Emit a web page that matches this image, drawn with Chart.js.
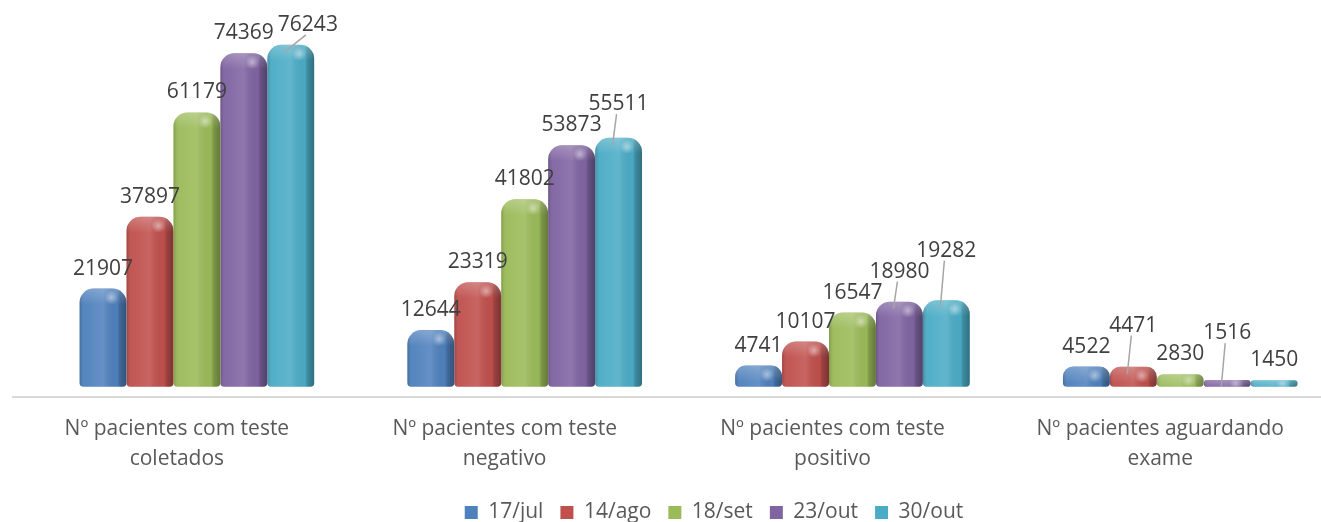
<!DOCTYPE html>
<html>
<head>
<meta charset="utf-8">
<script src="https://cdn.jsdelivr.net/npm/chart.js@4.4.0/dist/chart.umd.min.js"></script>
<style>
  html, body { margin: 0; padding: 0; background: #fff; overflow: hidden; }
  #wrap { width: 1321px; height: 522px; position: relative; }
</style>
</head>
<body>
<div id="wrap"><canvas id="testChart"></canvas></div>
<script>
// ---- data ----
var categories = [
  ["Nº pacientes com teste", "coletados"],
  ["Nº pacientes com teste", "negativo"],
  ["Nº pacientes com teste", "positivo"],
  ["Nº pacientes aguardando", "exame"]
];
var dates  = ["17/jul", "14/ago", "18/set", "23/out", "30/out"];
var jul17  = [21907, 12644, 4741, 4522];
var ago14  = [37897, 23319, 10107, 4471];
var set18  = [61179, 41802, 16547, 2830];
var out23  = [74369, 53873, 18980, 1516];
var out30  = [76243, 55511, 19282, 1450];
var seriesValues = [jul17, ago14, set18, out23, out30];
var seriesColors = ["#4F81BD", "#C0504D", "#9BBB59", "#8064A2", "#4BACC6"];

var textGrey = "#595959";
var labelGrey = "#404040";
var fontFam = "'Open Sans', 'Noto Sans', sans-serif";

// ---- cylinder-ish shading on top of each bar ----
var barShading = {
  id: "barShading",
  afterDatasetsDraw: function (chart) {
    var ctx = chart.ctx;
    chart.data.datasets.forEach(function (ds, di) {
      var meta = chart.getDatasetMeta(di);
      if (meta.hidden) return;
      meta.data.forEach(function (el) {
        var p = el.getProps(["x", "y", "base", "width"], true);
        var left = p.x - p.width / 2, right = p.x + p.width / 2;
        var h = p.base - p.y;
        var rTop = Math.min(14, p.width / 2, h / 2);
        var rBot = Math.min(4, h / 2);
        ctx.save();
        ctx.beginPath();
        ctx.roundRect(left, p.y, p.width, h, [rTop, rTop, rBot, rBot]);
        ctx.clip();
        var g = ctx.createLinearGradient(left, 0, right, 0);
        g.addColorStop(0, "rgba(0,0,0,0.18)");
        g.addColorStop(0.12, "rgba(255,255,255,0.04)");
        g.addColorStop(0.5, "rgba(255,255,255,0.12)");
        g.addColorStop(0.8, "rgba(0,0,0,0.02)");
        g.addColorStop(0.86, "rgba(0,0,0,0.2)");
        g.addColorStop(1, "rgba(0,0,0,0.36)");
        ctx.fillStyle = g;
        ctx.fillRect(left, p.y, p.width, h);
        var capH = Math.min(16, h);
        var gv = ctx.createLinearGradient(0, p.y, 0, p.y + capH);
        gv.addColorStop(0, "rgba(255,255,255,0.22)");
        gv.addColorStop(1, "rgba(255,255,255,0)");
        ctx.fillStyle = gv;
        ctx.fillRect(left, p.y, p.width, capH);
        var hx = p.x + p.width * 0.18, hy = p.y + Math.min(9, h / 2);
        var gr = ctx.createRadialGradient(hx, hy, 0, hx, hy, 7);
        gr.addColorStop(0, "rgba(255,255,255,0.45)");
        gr.addColorStop(1, "rgba(255,255,255,0)");
        ctx.fillStyle = gr;
        ctx.fillRect(hx - 8, hy - 8, 16, 16);
        ctx.restore();
      });
    });
  }
};

// ---- value labels above bars, nudged apart when they collide ----
var valueLabels = {
  id: "valueLabels",
  afterDatasetsDraw: function (chart) {
    var ctx = chart.ctx;
    var area = chart.chartArea;
    ctx.save();
    ctx.font = "21px " + fontFam;
    ctx.fillStyle = labelGrey;
    ctx.textAlign = "center";
    ctx.textBaseline = "alphabetic";
    var nCat = categories.length;
    for (var c = 0; c < nCat; c++) {
      var prev = null;
      chart.data.datasets.forEach(function (ds, di) {
        var meta = chart.getDatasetMeta(di);
        if (meta.hidden) return;
        var el = meta.data[c];
        var p = el.getProps(["x", "y"], true);
        var txt = String(ds.data[c].y);
        var w = ctx.measureText(txt).width;
        var lab = { x: p.x, base: p.y - 14, w: w, moved: false };
        if (prev) {
          var hOverlap = (prev.x + prev.w / 2 + 4) > (lab.x - lab.w / 2);
          var vOverlap = (lab.base > prev.base - 18) && (lab.base - 18 < prev.base);
          if (hOverlap && vOverlap) {
            var raised = prev.base - 21;
            if (raised - 16 > area.top - 2) {
              lab.base = raised;
            } else {
              lab.x = prev.x + (prev.w + lab.w) / 2 + 4;
            }
            lab.moved = true;
          }
        }
        if (lab.moved) {
          ctx.save();
          ctx.strokeStyle = "#a6a6a6";
          ctx.lineWidth = 1.5;
          ctx.beginPath();
          ctx.moveTo(lab.x - 2, lab.base + 4);
          ctx.lineTo(p.x - 6, p.y + 7);
          ctx.stroke();
          ctx.restore();
        }
        ctx.fillText(txt, lab.x, lab.base);
        prev = lab;
      });
    }
    ctx.restore();
  }
};

// the legend sits a little right of centre in the original
var legendNudge = {
  id: "legendNudge",
  afterLayout: function (chart) {
    if (!chart.legend) return;
    chart.legend.left += 47;
    chart.legend.right += 47;
  }
};

var datasets = seriesValues.map(function (vals, s) {
  return {
    label: dates[s],
    data: vals.map(function (v, i) { return { x: i, y: v }; }),
    backgroundColor: seriesColors[s],
    borderWidth: 0,
    borderRadius: { topLeft: 14, topRight: 14, bottomLeft: 4, bottomRight: 4 },
    borderSkipped: false,
    categoryPercentage: 0.716,
    barPercentage: 1.0
  };
});

new Chart(document.getElementById("testChart"), {
  type: "bar",
  data: { datasets: datasets },
  options: {
    responsive: true,
    maintainAspectRatio: false,
    animation: false,
    layout: { padding: { top: 10, left: 13, right: 0, bottom: -11 } },
    plugins: {
      legend: {
        position: "bottom",
        labels: {
          color: textGrey,
          font: { family: fontFam, size: 21 },
          boxWidth: 13,
          boxHeight: 13,
          padding: 17
        }
      },
      tooltip: { enabled: false }
    },
    scales: {
      x: {
        type: "linear",
        min: -0.561,
        max: 3.427,
        offset: false,
        grid: { display: false, drawTicks: false },
        border: { display: true, color: "#d9d9d9", width: 2 },
        afterBuildTicks: function (scale) {
          scale.ticks = categories.map(function (c, i) { return { value: i }; });
        },
        afterFit: function (scale) {
          scale.height -= 6;
        },
        ticks: {
          color: textGrey,
          font: { family: fontFam, size: 21, lineHeight: 1.43 },
          padding: 17,
          labelOffset: -20,
          maxRotation: 0,
          autoSkip: false,
          callback: function (val) { return categories[Math.round(val)]; }
        }
      },
      y: {
        display: false,
        min: -2250,
        max: 84000,
        grid: { display: false }
      }
    }
  },
  plugins: [barShading, valueLabels, legendNudge]
});
</script>
</body>
</html>
